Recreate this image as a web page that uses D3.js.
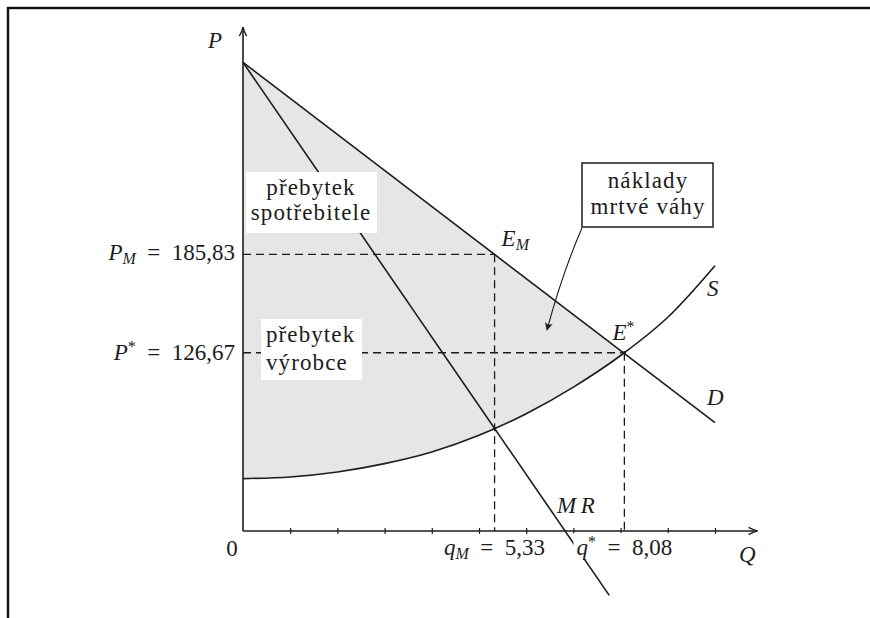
<!DOCTYPE html>
<html>
<head>
<meta charset="utf-8">
<script src="https://cdnjs.cloudflare.com/ajax/libs/d3/7.8.5/d3.min.js"></script>
<style>
  body { margin: 0; background: #fff; }
  svg { display: block; }
</style>
</head>
<body>
<svg></svg>
<script>
// quantities marked on the Q axis
var qTicks = [1, 2, 3, 4, 5, 6, 7, 8, 9, 10];
var qM = 5.33, qStar = 8.08;
var pM = 185.83, pStar = 126.67;

// demand D and marginal revenue MR (straight lines, end points)
var demandQ = [0, 10];
var demandP = [301.3, 84.6];
var mrQ = [0, 7.76];
var mrP = [301.3, -19.2];

// supply S
var supplyQ = [0, 1, 2, 3, 4, 5, 6, 7, 8.08, 9, 10];
var supplyP = [51, 52, 55, 60, 67, 77, 90, 106, 126.67, 148, 179];

// extent of the axes
var qAxisEnd = 10.9;
var pAxisEnd = 322.5;
var pAxis = 19.5; // level the Q axis is drawn at

var width = 870;
var height = 618;
var ink = '#1c1c1c';
var serif = "'Liberation Serif'";
var eq = '\u2002=\u2002';

var xScale = d3.scaleLinear().domain([0, 10]).range([243, 715]);
var yScale = d3.scaleLinear().domain([0, 300]).range([563.4, 64.5]);

var x0 = xScale(0);
var axisY = yScale(pAxis);

var fmt = d3.formatLocale({decimal: ',', thousands: '.', grouping: [3], currency: ['', '']}).format('.2f');

var svg = d3.select('svg')
    .attr('width', width)
    .attr('height', height);

svg.append('defs').append('marker')
    .attr('id', 'tip')
    .attr('viewBox', '0 0 10 10')
    .attr('refX', 9)
    .attr('refY', 5)
    .attr('markerUnits', 'userSpaceOnUse')
    .attr('markerWidth', 9)
    .attr('markerHeight', 8)
    .attr('orient', 'auto')
  .append('path')
    .attr('d', 'M0,0 L10,5 L0,10 L2.5,5 Z')
    .style('fill', ink);

// frame of the scanned figure
svg.append('rect')
    .attr('x', 8)
    .attr('y', 8)
    .attr('width', 960)
    .attr('height', 700)
    .style('fill', 'none')
    .style('stroke', '#111')
    .style('stroke-width', 2.4);

var demandAt = d3.scaleLinear().domain(demandQ).range(demandP);
var mrAt = d3.scaleLinear().domain(mrQ).range(mrP);

var supply = supplyQ.map((q, i) => [q, supplyP[i]]);
var demand = demandQ.map((q, i) => [q, demandP[i]]);
var mr = mrQ.map((q, i) => [q, mrP[i]]);

// shaded region between D and S up to q*
var area = d3.area()
    .x(d => xScale(d[0]))
    .y0(d => yScale(d[1]))
    .y1(d => yScale(demandAt(d[0])))
    .curve(d3.curveMonotoneX);

svg.append('path')
    .datum(supply.filter(d => d[0] <= qStar))
    .attr('d', area)
    .style('fill', '#e6e6e6');

// dashed guides
var guides = [
  [[0, pM], [qM, pM]],
  [[qM, pM], [qM, pAxis]],
  [[0, pStar], [qStar, pStar]],
  [[qStar, pStar], [qStar, pAxis]]
];

var line = d3.line()
    .x(d => xScale(d[0]))
    .y(d => yScale(d[1]));

svg.selectAll('.guide')
    .data(guides)
    .enter()
    .append('path')
      .attr('class', 'guide')
      .attr('d', line)
      .style('fill', 'none')
      .style('stroke', ink)
      .style('stroke-width', 1.3)
      .style('stroke-dasharray', '8,5');

// curves
svg.append('path')
    .datum(supply)
    .attr('d', line.curve(d3.curveMonotoneX))
    .style('fill', 'none')
    .style('stroke', ink)
    .style('stroke-width', 1.6);

line.curve(d3.curveLinear);

[demand, mr].forEach(function(pts) {
  svg.append('path')
      .datum(pts)
      .attr('d', line)
      .style('fill', 'none')
      .style('stroke', ink)
      .style('stroke-width', 1.6);
});

// small dots where the curves meet
svg.selectAll('.dot')
    .data([[qStar, pStar], [qM, mrAt(qM)]])
    .enter()
    .append('circle')
      .attr('class', 'dot')
      .attr('cx', d => xScale(d[0]))
      .attr('cy', d => yScale(d[1]))
      .attr('r', 1.7)
      .style('fill', ink);

// axes
svg.append('line')
    .attr('x1', x0).attr('y1', axisY)
    .attr('x2', xScale(qAxisEnd)).attr('y2', axisY)
    .style('stroke', ink)
    .style('stroke-width', 1.6);

svg.append('line')
    .attr('x1', x0).attr('y1', axisY)
    .attr('x2', x0).attr('y2', yScale(pAxisEnd))
    .style('stroke', ink)
    .style('stroke-width', 1.6);

var arrowHead = 'M-3.6,9 Q-1,4 0,0 Q1,4 3.6,9';

svg.append('path')
    .attr('d', arrowHead)
    .attr('transform', 'translate(' + x0 + ',' + yScale(pAxisEnd) + ')')
    .style('fill', 'none')
    .style('stroke', ink)
    .style('stroke-width', 1.3);

svg.append('path')
    .attr('d', arrowHead)
    .attr('transform', 'translate(' + xScale(qAxisEnd) + ',' + axisY + ') rotate(90)')
    .style('fill', 'none')
    .style('stroke', ink)
    .style('stroke-width', 1.3);

var xAxis = d3.axisBottom(xScale)
    .tickValues(qTicks)
    .tickSize(6)
    .tickFormat('');

var gx = svg.append('g')
    .attr('transform', 'translate(0,' + (axisY - 3) + ')')
    .call(xAxis);
gx.select('.domain').remove();
gx.selectAll('line').style('stroke', ink).style('stroke-width', 1.2);

// text helpers
function mathText(x, y, parts, anchor) {
  var t = svg.append('text')
      .attr('x', x)
      .attr('y', y)
      .attr('text-anchor', anchor || 'start')
      .style('font-family', serif)
      .style('fill', ink)
      .style('font-size', '23px');
  var shift = 0;
  parts.forEach(function(p) {
    var s = t.append('tspan').text(p[0]);
    var dy = 0;
    if (p[1] === 'i') s.style('font-style', 'italic');
    if (p[1] === 'sub') { s.style('font-style', 'italic').style('font-size', '16px'); dy = 4; }
    if (p[1] === 'sup') { s.style('font-size', '16px'); dy = -8; }
    s.attr('dy', dy - shift);
    shift = dy;
  });
  return t;
}

function box(x, y, w, h, lines, anchor, tx, border) {
  svg.append('rect')
      .attr('x', x).attr('y', y)
      .attr('width', w).attr('height', h)
      .style('fill', '#fff')
      .style('stroke', border ? ink : 'none')
      .style('stroke-width', 1.5);
  lines.forEach(function(l) {
    svg.append('text')
        .attr('x', tx)
        .attr('y', y + l[1])
        .attr('text-anchor', anchor)
        .style('font-family', serif)
        .style('fill', ink)
        .style('font-size', '23px')
        .style('letter-spacing', '1.1px')
        .text(l[0]);
  });
}

// axis names
mathText(208, 48, [['P', 'i']]);
mathText(739, 562, [['Q', 'i']]);
mathText(x0 - 11, axisY + 25, [['0', 'r']], 'middle');

// price labels
mathText(x0 - 8, yScale(pM) + 6, [['P', 'i'], ['M', 'sub'], [eq + fmt(pM), 'r']], 'end');
mathText(x0 - 8, yScale(pStar) + 7, [['P', 'i'], ['*', 'sup'], [eq + fmt(pStar), 'r']], 'end');

// quantity labels
mathText(xScale(qM), axisY + 24, [['q', 'i'], ['M', 'sub'], [eq + fmt(qM), 'r']], 'middle');
var qs = mathText(xScale(qStar), axisY + 24, [['q', 'i'], ['*', 'sup'], [eq + fmt(qStar), 'r']], 'middle');
var bb = qs.node().getBBox();
svg.insert('rect', function() { return qs.node(); })
    .attr('x', bb.x - 3).attr('y', bb.y)
    .attr('width', bb.width + 6).attr('height', bb.height)
    .style('fill', '#fff');

// curve names
mathText(xScale(qM) + 7, yScale(pM) - 8, [['E', 'i'], ['M', 'sub']]);
mathText(xScale(qStar) - 12, yScale(pStar) - 13, [['E', 'i'], ['*', 'sup']]);
mathText(707, 296, [['S', 'i']]);
mathText(707, 405, [['D', 'i']]);
mathText(557, 513, [['M', 'i'], ['\u2009R', 'i']]);

// surplus boxes
box(246, 172, 131, 61, [['přebytek', 23], ['spotřebitele', 48]], 'middle', 311, false);
box(261, 319, 101, 61, [['přebytek', 23], ['výrobce', 51]], 'start', 266, false);
box(582, 163, 131, 64, [['náklady', 25], ['mrtvé váhy', 51]], 'middle', 648, true);

// arrow from the deadweight box
svg.append('path')
    .attr('d', 'M582,228 Q562,274 547,330')
    .attr('marker-end', 'url(#tip)')
    .style('fill', 'none')
    .style('stroke', ink)
    .style('stroke-width', 1.1);
</script>
</body>
</html>
